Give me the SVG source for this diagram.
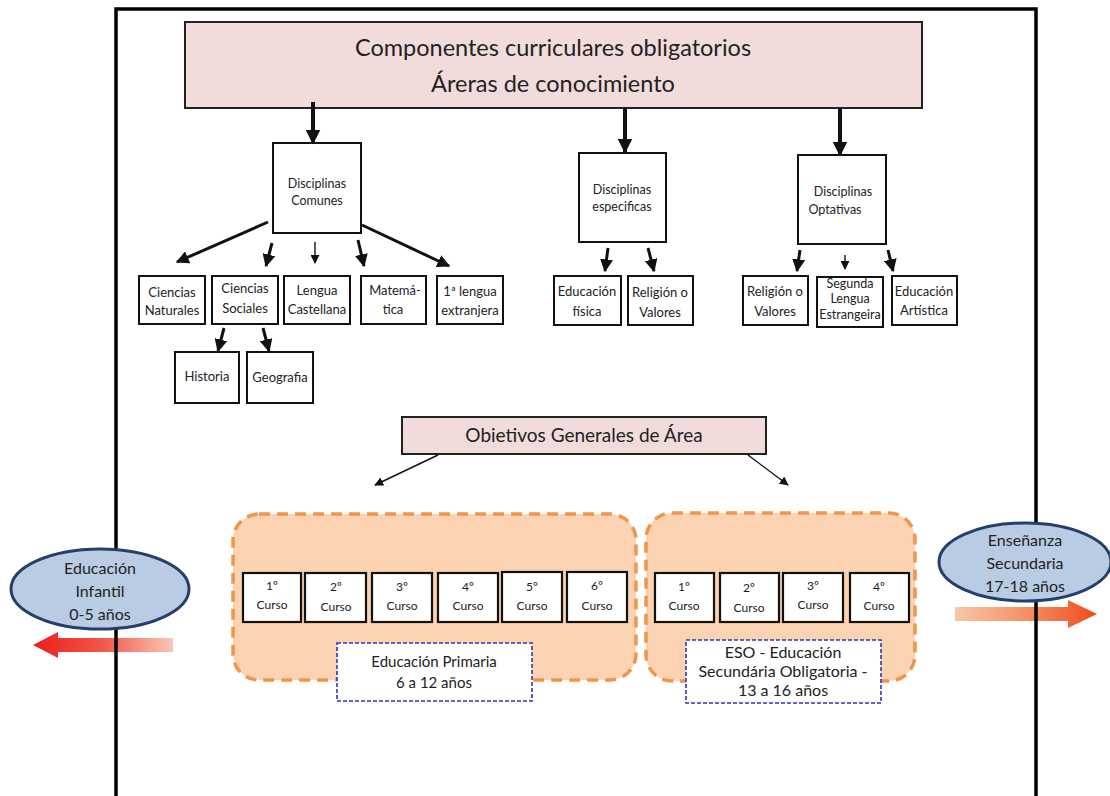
<svg xmlns="http://www.w3.org/2000/svg" width="1110" height="796" viewBox="0 0 1110 796">
<defs>
<style>
text{font-family:Lato,"Open Sans","Liberation Sans",sans-serif;fill:#222;text-anchor:middle}
.box{fill:#fff;stroke:#111;stroke-width:2}
.pink{fill:#f2dcdb;stroke:#222;stroke-width:2}
.curso{fill:#fff;stroke:#111;stroke-width:2.2}
.cont{fill:#fbd3b3;stroke:#f0964a;stroke-width:3.5;stroke-dasharray:11 7}
.lbl{fill:#fff;stroke:#3333bb;stroke-width:1.6;stroke-dasharray:4 2}
.ell{fill:#b9cce4;stroke:#24406a;stroke-width:3}
.thick{stroke:#111;stroke-width:4;fill:none}
.med{stroke:#111;stroke-width:3;fill:none}
.thin{stroke:#111;stroke-width:1.4;fill:none}
.sd{font-size:12.5px}
.sr{font-size:13px}
.sc{font-size:12px}
.s15{font-size:15px}
.s16{font-size:16px}
</style>
<marker id="ah" viewBox="0 0 10 10" refX="9" refY="5" markerWidth="15" markerHeight="15" markerUnits="userSpaceOnUse" orient="auto"><path d="M0,0 L10,5 L0,10 z" fill="#111"/></marker>
<marker id="ahm" viewBox="0 0 10 10" refX="9" refY="5" markerWidth="13" markerHeight="13" markerUnits="userSpaceOnUse" orient="auto"><path d="M0,0 L10,5 L0,10 z" fill="#111"/></marker>
<marker id="ahs" viewBox="0 0 10 10" refX="9" refY="5" markerWidth="9" markerHeight="9" markerUnits="userSpaceOnUse" orient="auto"><path d="M0,0 L10,5 L0,10 z" fill="#111"/></marker>
<linearGradient id="gl" x1="0" y1="0" x2="1" y2="0"><stop offset="0" stop-color="#ee1b1b"/><stop offset="0.5" stop-color="#f2584a"/><stop offset="1" stop-color="#f9c8b8"/></linearGradient>
<linearGradient id="gr" x1="0" y1="0" x2="1" y2="0"><stop offset="0" stop-color="#f9c7a6"/><stop offset="0.5" stop-color="#f59066"/><stop offset="1" stop-color="#ef4a1c"/></linearGradient>
</defs>
<rect width="1110" height="796" fill="#fff"/>

<g id="flow-arrows">
<polygon points="33,645 58,632 58,638 173,638 173,652 58,652 58,658" fill="url(#gl)"/>
<polygon points="1097,614 1068,600 1068,607 955,607 955,621 1068,621 1068,628" fill="url(#gr)"/>
</g>

<g id="frame" fill="none" stroke="#000" stroke-width="3.5">
<path d="M116,796 V9 H1036 V796"/>
</g>

<g id="top">
<rect class="pink" x="185" y="22" width="737" height="86"/>
<text x="553" y="56" font-size="23.5">Componentes curriculares obligatorios</text>
<text x="553" y="92" font-size="23.5">Áreras de conocimiento</text>
</g>

<g id="disc-comunes"><rect class="box" x="273" y="143" width="88" height="90"/><text class="sd" x="317" y="188">Disciplinas</text><text class="sd" x="317" y="205">Comunes</text></g>
<g id="disc-especificas"><rect class="box" x="579" y="153" width="87" height="89"/><text class="sd" x="622" y="194">Disciplinas</text><text class="sd" x="622" y="211">especificas</text></g>
<g id="disc-optativas"><rect class="box" x="798" y="155" width="88" height="89"/><text class="sd" x="843" y="196">Disciplinas</text><text class="sd" x="835" y="214">Optativas</text></g>

<g id="c-naturales"><rect class="box" x="139" y="276" width="66" height="48"/><text class="sr" x="172" y="297">Ciencias</text><text class="sr" x="172" y="315">Naturales</text></g>
<g id="c-sociales"><rect class="box" x="212" y="276" width="66" height="48"/><text class="sr" x="245" y="293">Ciencias</text><text class="sr" x="245" y="313">Sociales</text></g>
<g id="lengua"><rect class="box" x="284" y="276" width="66" height="48"/><text class="sr" x="317" y="295">Lengua</text><text class="sr" x="317" y="314">Castellana</text></g>
<g id="matematica"><rect class="box" x="361" y="276" width="65" height="48"/><text class="sr" x="395" y="295">Matemá-</text><text class="sr" x="393" y="314">tica</text></g>
<g id="lengua-ext"><rect class="box" x="437" y="276" width="66" height="48"/><text class="sr" x="470" y="296">1ª lengua</text><text class="sr" x="470" y="315">extranjera</text></g>
<g id="historia"><rect class="box" x="175" y="352" width="64" height="51"/><text class="sr" x="207" y="381">Historia</text></g>
<g id="geografia"><rect class="box" x="247" y="352" width="66" height="51"/><text class="sr" x="280" y="382">Geografia</text></g>

<g id="ed-fisica"><rect class="box" x="554" y="276" width="67" height="49"/><text class="sr" x="587" y="296">Educación</text><text class="sr" x="587" y="316">física</text></g>
<g id="religion-1"><rect class="box" x="628" y="276" width="65" height="49"/><text class="sr" x="660" y="297">Religión o</text><text class="sr" x="660" y="317">Valores</text></g>
<g id="religion-2"><rect class="box" x="743" y="276" width="65" height="49"/><text class="sr" x="775" y="296">Religión o</text><text class="sr" x="775" y="316">Valores</text></g>
<g id="segunda"><rect class="box" x="817" y="277" width="66" height="50"/><text class="sd" x="850" y="288">Segunda</text><text class="sd" x="850" y="303">Lengua</text><text class="sd" x="850" y="319">Estrangeira</text></g>
<g id="ed-artistica"><rect class="box" x="892" y="276" width="65" height="49"/><text class="sr" x="924" y="296">Educación</text><text class="sr" x="924" y="315">Artística</text></g>

<g id="objetivos"><rect class="pink" x="402" y="417" width="364" height="37"/><text x="584" y="442" font-size="19">Obietivos Generales de Área</text></g>

<g id="primaria">
<rect class="cont" x="233" y="514" width="403" height="166" rx="26"/>
<rect class="curso" x="243" y="573" width="58" height="49"/><text class="sc" x="272" y="590">1º</text><text class="sc" x="272" y="609">Curso</text>
<rect class="curso" x="305" y="573" width="61" height="49"/><text class="sc" x="336" y="591">2º</text><text class="sc" x="336" y="611">Curso</text>
<rect class="curso" x="372" y="573" width="60" height="49"/><text class="sc" x="402" y="591">3º</text><text class="sc" x="402" y="610">Curso</text>
<rect class="curso" x="438" y="573" width="60" height="49"/><text class="sc" x="468" y="591">4º</text><text class="sc" x="468" y="610">Curso</text>
<rect class="curso" x="502" y="572" width="60" height="50"/><text class="sc" x="532" y="591">5º</text><text class="sc" x="532" y="610">Curso</text>
<rect class="curso" x="567" y="572" width="60" height="50"/><text class="sc" x="597" y="590">6º</text><text class="sc" x="597" y="610">Curso</text>
<rect class="lbl" x="337" y="643" width="195" height="58"/>
<text class="s15" x="434" y="667">Educación Primaria</text>
<text class="s15" x="434" y="688">6 a 12 años</text>
</g>

<g id="eso">
<rect class="cont" x="646" y="513" width="269" height="168" rx="26"/>
<rect class="curso" x="655" y="573" width="59" height="49"/><text class="sc" x="684" y="591">1º</text><text class="sc" x="684" y="610">Curso</text>
<rect class="curso" x="720" y="573" width="59" height="49"/><text class="sc" x="749" y="592">2º</text><text class="sc" x="749" y="612">Curso</text>
<rect class="curso" x="783" y="573" width="60" height="49"/><text class="sc" x="813" y="590">3º</text><text class="sc" x="813" y="609">Curso</text>
<rect class="curso" x="850" y="573" width="59" height="49"/><text class="sc" x="879" y="591">4º</text><text class="sc" x="879" y="610">Curso</text>
<rect class="lbl" x="686" y="640" width="195" height="63"/>
<text x="783" y="658" font-size="16">ESO - Educación</text>
<text x="783" y="677" font-size="16">Secundária Obligatoria -</text>
<text x="783" y="696" font-size="16">13 a 16 años</text>
</g>

<g id="infantil"><ellipse class="ell" cx="100" cy="589" rx="89" ry="40"/><text class="s16" x="100" y="574">Educación</text><text class="s16" x="100" y="597">Infantil</text><text class="s16" x="100" y="620">0-5 años</text></g>
<g id="secundaria"><ellipse class="ell" cx="1025" cy="562" rx="86" ry="39"/><text class="s16" x="1025" y="546">Enseñanza</text><text class="s16" x="1025" y="569">Secundaria</text><text class="s16" x="1025" y="592">17-18 años</text></g>

<g id="connectors">
<line class="thick" x1="313" y1="102" x2="313" y2="143" marker-end="url(#ah)"/>
<line class="thick" x1="625" y1="108" x2="625" y2="152" marker-end="url(#ah)"/>
<line class="thick" x1="840" y1="108" x2="840" y2="155" marker-end="url(#ah)"/>
<line class="med" x1="268" y1="222" x2="177" y2="262" marker-end="url(#ahm)"/>
<line class="med" x1="272" y1="243" x2="266" y2="266" marker-end="url(#ahm)"/>
<line class="thin" x1="315" y1="242" x2="315" y2="263" marker-end="url(#ahs)"/>
<line class="med" x1="358" y1="240" x2="364" y2="266" marker-end="url(#ahm)"/>
<line class="med" x1="362" y1="225" x2="449" y2="266" marker-end="url(#ahm)"/>
<line class="med" x1="224" y1="328" x2="218" y2="351" marker-end="url(#ahm)"/>
<line class="med" x1="263" y1="328" x2="269" y2="351" marker-end="url(#ahm)"/>
<line class="med" x1="608" y1="248" x2="605" y2="271" marker-end="url(#ahm)"/>
<line class="med" x1="648" y1="248" x2="654" y2="271" marker-end="url(#ahm)"/>
<line class="med" x1="800" y1="250" x2="797" y2="271" marker-end="url(#ahm)"/>
<line class="thin" x1="845" y1="255" x2="845" y2="269" marker-end="url(#ahs)"/>
<line class="med" x1="888" y1="250" x2="893" y2="271" marker-end="url(#ahm)"/>
<line class="thin" x1="438" y1="455" x2="375" y2="485" marker-end="url(#ahs)"/>
<line class="thin" x1="748" y1="455" x2="788" y2="485" marker-end="url(#ahs)"/>
</g>
</svg>
